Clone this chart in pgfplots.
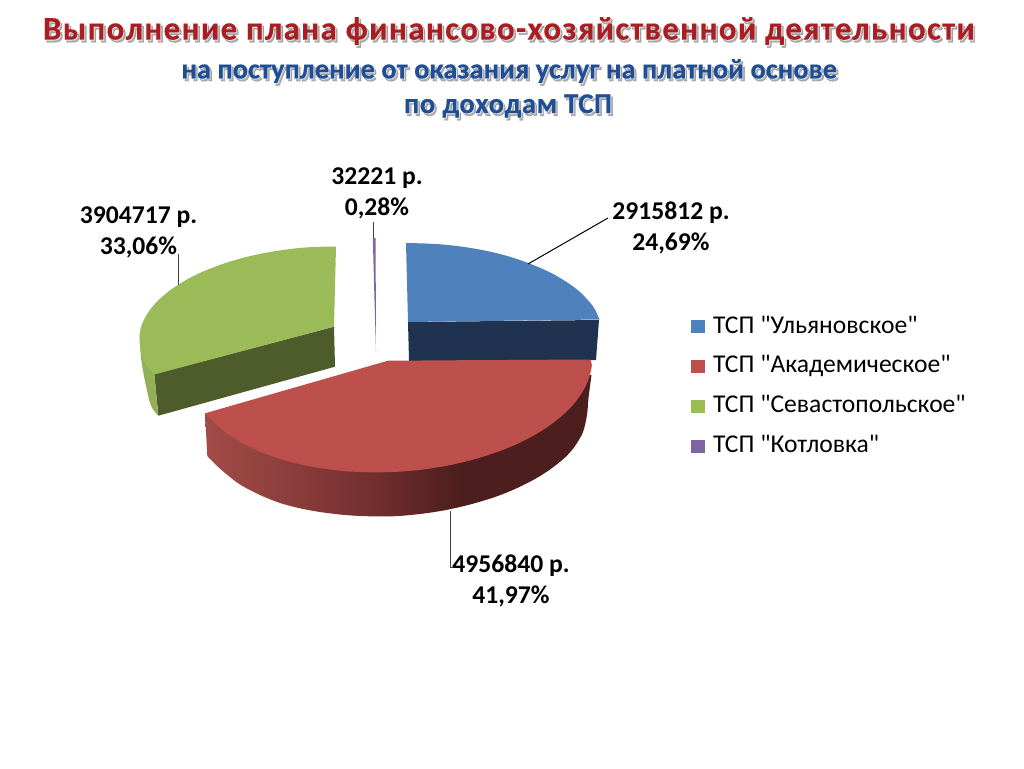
\documentclass[border=0pt]{standalone}
\usepackage{fontspec}
\setmainfont{Carlito}[Ligatures=TeXOff]
\newfontfamily\ttlfont[LetterSpace=4,FakeBold=0.4]{Carlito Bold}
\newfontfamily\ttlrim[LetterSpace=4,FakeBold=1]{Carlito Bold}
\newfontfamily\ttlshade[LetterSpace=4,FakeBold=3]{Carlito Bold}
\newfontfamily\subfont[FakeBold=0.4]{Carlito Bold}
\newfontfamily\subrim[FakeBold=1]{Carlito Bold}
\newfontfamily\subshade[FakeBold=3]{Carlito Bold}
\newfontfamily\thdfont[LetterSpace=2,FakeBold=0.4]{Carlito Bold}
\newfontfamily\thdrim[LetterSpace=2,FakeBold=1]{Carlito Bold}
\newfontfamily\thdshade[LetterSpace=2,FakeBold=3]{Carlito Bold}
\usepackage{pgfplots}
\pgfplotsset{compat=1.18}
\definecolor{cblue}{HTML}{4F81BD}
\definecolor{cred}{HTML}{BD504D}
\definecolor{cgreen}{HTML}{9BBB59}
\definecolor{cpurple}{HTML}{8064A2}
\definecolor{sblue}{HTML}{1F3350}
\definecolor{sgreen}{HTML}{4E5C2B}
\definecolor{sgreenl}{HTML}{92B055}
\definecolor{ttlred}{HTML}{A81E22}
\definecolor{ttlblue}{HTML}{1F4E94}
\definecolor{rs0}{HTML}{A34B48}
\definecolor{rs1}{HTML}{8A3C3A}
\definecolor{rs2}{HTML}{682A29}
\definecolor{rs3}{HTML}{4C1E1D}
\pgfdeclarehorizontalshading{redside}{100bp}{color(0bp)=(rs0); color(25bp)=(rs0); color(37bp)=(rs1); color(50bp)=(rs2); color(58bp)=(rs3); color(100bp)=(rs3)}
\newcommand{\ttl}[8]{%
\node[text=black!55,opacity=.5] at (axis cs:#1+2,#2+2.5) {\fontsize{#3}{#3}#7 #5};
\node[text=white] at (axis cs:#1+.4,#2+.5) {\fontsize{#3}{#3}#8 #5};
\node[text=#4] at (axis cs:#1,#2) {\fontsize{#3}{#3}#6 #5};}
\newcommand{\lbl}[3]{\node[align=center,font=\fontsize{25.6}{31}\bfseries\selectfont,text=black] at (axis cs:#1,#2) {#3};}
\begin{document}
\begin{tikzpicture}
\path[use as bounding box] (0,0) rectangle (1024pt,768pt);
\begin{axis}[
  anchor=south west, at={(0,0)},
  scale only axis, width=1024pt, height=768pt,
  xmin=0, xmax=1024, ymin=0, ymax=768, y dir=reverse,
  hide axis, clip=false,
  legend style={draw=none, fill=none, at={(691/1024,1-314/768)}, anchor=north west,
    font=\fontsize{25.6}{28}\selectfont, row sep=13.8pt, inner sep=0pt,
    /tikz/column 1/.style={column sep=7pt},
    nodes={inner sep=1pt, anchor=base west, text height=18pt, text depth=6pt, text=black}},
  legend cell align=left,
  legend image code/.code={\fill[#1] (0pt,0pt) rectangle (14pt,13pt);},
]
% blue slice
\addplot[fill=sblue,draw=none,forget plot] coordinates {(408,322)(599,320)(596,360)(409,361)} -- cycle;
\addplot[fill=cblue,draw=none,smooth,tension=0.5] coordinates {(406,243.2)(420,243.3)(440,244.3)(460,246.4)(480,249.6)(500,254)(520,260)(540,267.8)(555,275)(570,284.3)(580,292)(590,302.5)(595,309.5)(599.5,319.5)} -- (axis cs:408,322) -- cycle;
\addlegendentry{ТСП "Ульяновское"}
% red slice side
\addplot[shading=redside,draw=none,forget plot,smooth,tension=0.5] coordinates {(207.3,456)(215,464)(225,473)(240,484.5)(260,495)(280,503)(300,508.3)(320,512)(345,515)(370,516.3)(395,516.2)(420,514)(445,510.2)(470,504.5)(495,497)(515,489)(535,479)(550,469.5)(565,457.5)(575,446)(583,432)(587,415)(588.5,398)(591.5,375)} -- (axis cs:205,413.3) -- cycle;
\addplot[fill=cred,draw=none,smooth,tension=0.5] coordinates {(590.5,359.5)(591.8,365)(591,370.4)(588,380.7)(583,391)(575,402.5)(565,413.1)(550,425.2)(535,434.8)(515,444.9)(495,452.8)(470,460.5)(445,466.1)(420,469.9)(395,471.9)(370,472.3)(345,471.2)(320,468.1)(300,464.3)(280,458.9)(260,451.6)(240,441.8)(225,431.8)(215,423.1)(205,413.3)} -- (axis cs:388,360.7) -- cycle;
\addlegendentry{ТСП "Академическое"}
% green slice
\addplot[fill=sgreen,draw=none,forget plot] coordinates {(154.3,374)(334,326.7)(335,366.7)(158.3,415.7)} -- cycle;
\addplot[fill=sgreenl,draw=none,forget plot,smooth,tension=0.5] coordinates {(139.7,336.7)(141.7,363)(150,403)(158.3,415.7)} -- (axis cs:154.3,374) -- cycle;
\addplot[fill=cgreen,draw=none,smooth,tension=0.5] coordinates {(336,246.7)(320,246.8)(300,247.9)(280,250.4)(260,253.9)(240,258.6)(220,264.9)(200,272.9)(185,280.6)(170,290.3)(158,300.6)(150,309.8)(144,319.7)(140.5,328.9)(139.5,338)(141,352)(146,364.7)(154.3,374.5)} -- (axis cs:334,326.7) -- cycle;
\addlegendentry{ТСП "Севастопольское"}
% purple slice
\addplot[fill=cpurple,draw=none] coordinates {(372.8,238)(375.6,238)(375.8,300)(376,352)(374.5,300)} -- cycle;
\addlegendentry{ТСП "Котловка"}
% leader lines
\addplot[black,line width=1pt,forget plot] coordinates {(528,264)(608,218)};
\addplot[black!75,line width=1pt,forget plot] coordinates {(178.5,285)(178.5,254)};
\addplot[black!75,line width=1pt,forget plot] coordinates {(373.5,238)(373.5,222)};
\addplot[black!75,line width=1pt,forget plot] coordinates {(450,511)(450,567)(453,567)};
% labels
\lbl{377}{193}{32221 р.\\0,28\%}
\lbl{138.5}{232}{3904717 р.\\33,06\%}
\lbl{671}{227.5}{2915812 р.\\24,69\%}
\lbl{511}{580.5}{4956840 р.\\41,97\%}
% titles
\ttl{504.5}{31}{33}{ttlred}{Выполнение плана финансово-хозяйственной деятельности}{\ttlfont}{\ttlshade}{\ttlrim}
\ttl{506}{71}{28.5}{ttlblue}{на поступление от оказания услуг на платной основе}{\subfont}{\subshade}{\subrim}
\ttl{504.5}{106}{28.7}{ttlblue}{по доходам ТСП}{\thdfont}{\thdshade}{\thdrim}
\end{axis}
\end{tikzpicture}
\end{document}
